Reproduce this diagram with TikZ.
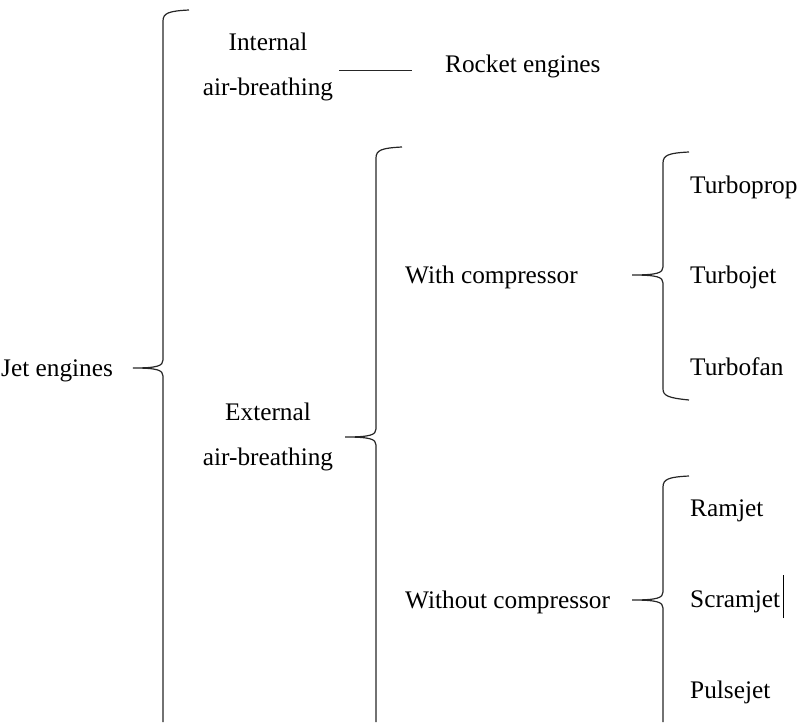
\documentclass[tikz,border=0pt]{standalone}
\usepackage{fontspec}
\setmainfont{Liberation Serif}
\usetikzlibrary{positioning}

% #1 x of the spine, #2 top, #3 middle, #4 name of the tip, #5 lower end
\newcommand{\drawbracket}[5]{%
  \draw[bracket] (#1+26,#2-3) .. controls (#1+6,#2-2) and (#1,#2) .. (#1,#2+8)
    -- (#1,#3-8) .. controls (#1,#3-2) and (#1-6,#3) .. (#4)
    .. controls (#1-6,#3) and (#1,#3+2) .. (#1,#3+8) #5;}

\begin{document}
\begin{tikzpicture}[
    x=1pt, y=-1pt,
    every node/.style={inner sep=0pt, font=\fontsize{25.3}{45}\selectfont},
    label/.style={anchor=base west},
    group/.style={align=center},
    bracket/.style={draw=black!85, line width=1.2pt},
]
\useasboundingbox (0,0) rectangle (799,722);

\node[label] (jet) at (1,376) {Jet engines};
\node[group] (internal) at (268,67) {Internal\\air-breathing};
\node[label] (rocket) at (445,73) {Rocket engines};
\node[group] (external) at (268,437) {External\\air-breathing};
\node[label] (with) at (405,283) {With compressor};
\node[label] (without) at (405,608) {Without compressor};
\node[label] (turboprop) at (690,193) {Turboprop};
\node[label] (turbojet) at (690,283) {Turbojet};
\node[label] (turbofan) at (690,375) {Turbofan};
\node[label] (ramjet) at (690,516) {Ramjet};
\node[label] (scramjet) at (690,607) {Scramjet};
\node[label] (pulsejet) at (690,698) {Pulsejet};

% tips of the brackets
\coordinate (jettip) at (133,368);
\coordinate (exttip) at (345,437);
\coordinate (withtip) at (632,275);
\coordinate (withouttip) at (632,600);

\drawbracket{163}{13}{368}{jettip}{-- (163,722)}
\drawbracket{376}{150}{437}{exttip}{-- (376,722)}
\drawbracket{663}{155}{275}{withtip}{-- (663,389) .. controls (663,396) and (669,398) .. (689,400)}
\drawbracket{663}{479}{600}{withouttip}{-- (663,722)}

\draw[bracket, shorten <=6pt, shorten >=33pt] (internal.east |- rocket.mid) -- (rocket.mid west);

% text cursor after Scramjet
\draw[line width=0.8pt] ([xshift=3pt]scramjet.base east) ++(0,11) -- ++(0,-43);
\end{tikzpicture}
\end{document}
